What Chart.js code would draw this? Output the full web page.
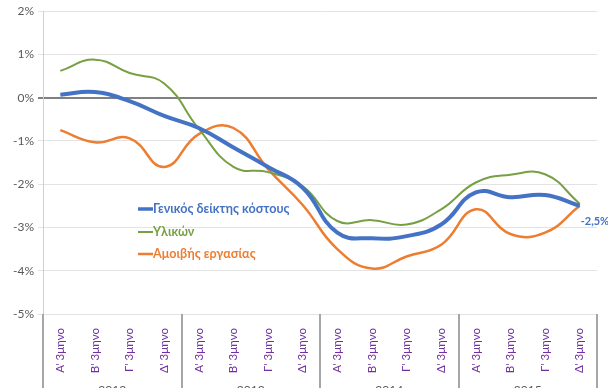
<!DOCTYPE html>
<html>
<head>
<meta charset="utf-8">
<script src="https://cdn.jsdelivr.net/npm/chart.js@4/dist/chart.umd.min.js"></script>
<style>
html,body{margin:0;padding:0;background:#fff;}
#wrap{width:608px;height:388px;position:relative;}
</style>
</head>
<body>
<div id="wrap"><canvas id="c" width="608" height="388"></canvas></div>
<script>
const years = ["2012", "2013", "2014", "2015"];
const quarters = ["Α' 3μηνο", "Β' 3μηνο", "Γ' 3μηνο", "Δ' 3μηνο"];
const seriesNames = ["Γενικός δείκτης κόστους", "Υλικών", "Αμοιβής εργασίας"];
const general   = [0.07, 0.13, -0.08, -0.42, -0.70, -1.15, -1.60, -2.08, -3.12, -3.25, -3.20, -2.93, -2.19, -2.30, -2.25, -2.50];
const materials = [0.62, 0.88, 0.57, 0.33, -0.72, -1.60, -1.72, -2.05, -2.85, -2.83, -2.93, -2.58, -1.96, -1.78, -1.77, -2.45];
const labour    = [-0.75, -1.03, -0.94, -1.60, -0.84, -0.70, -1.65, -2.48, -3.50, -3.95, -3.67, -3.40, -2.58, -3.15, -3.12, -2.50];
const yTicks = [2, 1, 0, -1, -2, -3, -4, -5];
const lastLabel = "-2,5%";

const labels = [];
years.forEach(y => quarters.forEach(q => labels.push(q)));

const colors = ["#4472C4", "#77A043", "#ED7D31"];

const overlay = {
  id: 'overlay',
  afterDraw(chart) {
    const ctx = chart.ctx;
    const ca = chart.chartArea;
    const n = labels.length;
    const w = (ca.right - ca.left) / n;
    ctx.save();
    // year separators
    ctx.strokeStyle = '#A6A6A6';
    ctx.lineWidth = 2;
    for (let i = 0; i <= years.length; i++) {
      const x = Math.round(ca.left + i * 4 * w);
      ctx.beginPath();
      ctx.moveTo(x, ca.bottom);
      ctx.lineTo(x, 388);
      ctx.stroke();
    }
    // year labels
    ctx.fillStyle = '#595959';
    ctx.font = '12px Lato, "Liberation Sans", sans-serif';
    ctx.textAlign = 'center';
    ctx.textBaseline = 'top';
    years.forEach((y, i) => {
      ctx.fillText(y, ca.left + (i * 4 + 2) * w, 384);
    });
    // legend
    ctx.textAlign = 'left';
    ctx.textBaseline = 'middle';
    ctx.font = 'bold 12.6px Lato, "Liberation Sans", sans-serif';
    const lx = 138, ly = [209, 232, 254], lw = [3.5, 2, 2.5];
    seriesNames.forEach((s, i) => {
      ctx.strokeStyle = colors[i];
      ctx.lineWidth = lw[i];
      ctx.beginPath();
      ctx.moveTo(lx, ly[i]);
      ctx.lineTo(lx + 15, ly[i]);
      ctx.stroke();
      ctx.fillStyle = colors[i];
      ctx.fillText(s, lx + 15, ly[i]);
    });
    // data label on last point of general index
    const meta = chart.getDatasetMeta(0);
    const p = meta.data[meta.data.length - 1];
    ctx.fillStyle = '#4472C4';
    ctx.font = 'bold 11px Lato, "Liberation Sans", sans-serif';
    ctx.textAlign = 'left';
    ctx.fillText(lastLabel, p.x + 1, p.y + 16);
    ctx.restore();
  }
};

new Chart(document.getElementById('c'), {
  type: 'line',
  data: {
    labels: labels,
    datasets: [
      { label: seriesNames[0], data: general, borderColor: colors[0], borderWidth: 4, pointRadius: 0, tension: 0.45, order: 1 },
      { label: seriesNames[1], data: materials, borderColor: colors[1], borderWidth: 2, pointRadius: 0, tension: 0.45, order: 2 },
      { label: seriesNames[2], data: labour, borderColor: colors[2], borderWidth: 2.5, pointRadius: 0, tension: 0.45, order: 3 }
    ]
  },
  options: {
    responsive: false,
    animation: false,
    devicePixelRatio: 1,
    layout: { padding: { top: 8, right: 11, left: 0, bottom: 0 } },
    plugins: { legend: { display: false }, tooltip: { enabled: false }, title: { display: false } },
    scales: {
      x: {
        offset: true,
        grid: { display: false, offset: true },
        border: { display: false },
        ticks: {
          color: '#7030A0',
          font: { family: 'Lato, "Liberation Sans", sans-serif', size: 11.5 },
          maxRotation: 90, minRotation: 90, autoSkip: false, padding: 6
        },
        afterFit(scale) { scale.height = 74; }
      },
      y: {
        min: -5, max: 2,
        afterBuildTicks(scale) { scale.ticks = yTicks.map(v => ({ value: v })); },
        ticks: {
          color: '#595959',
          font: { family: 'Lato, "Liberation Sans", sans-serif', size: 12 },
          callback: v => v + '%',
          padding: 4
        },
        grid: {
          color: ctx => ctx.tick && ctx.tick.value === 0 ? '#808080' : '#E3E3E3',
          lineWidth: ctx => ctx.tick && ctx.tick.value === 0 ? 2 : 1,
          tickLength: 5
        },
        border: { color: '#D0D0D0' },
        afterFit(scale) { scale.width = 43; }
      }
    }
  },
  plugins: [overlay]
});
</script>
</body>
</html>
